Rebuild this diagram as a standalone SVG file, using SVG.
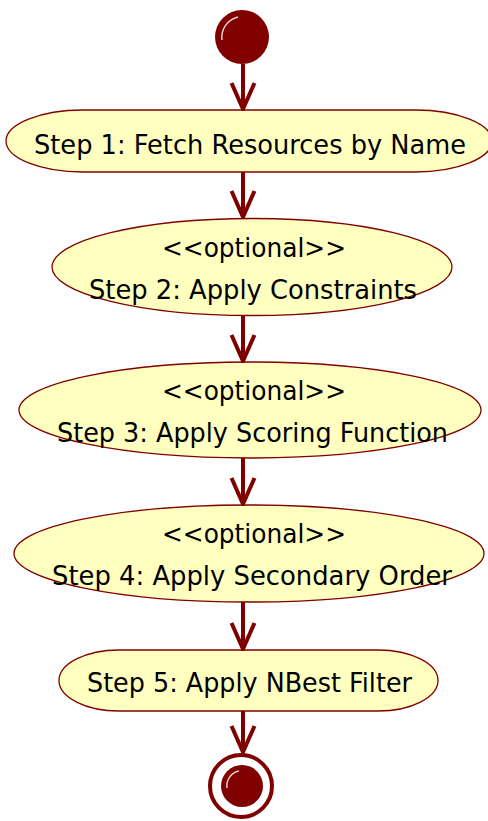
<svg xmlns="http://www.w3.org/2000/svg" width="488" height="821" viewBox="0 0 488 821">
<defs>
<marker id="arr" markerUnits="userSpaceOnUse" markerWidth="30" markerHeight="30" viewBox="-28 -14 30 28" refX="0" refY="0" orient="auto">
<path d="M-26,-11.5 L0,0 L-26,11.5" fill="none" stroke="#800000" stroke-width="4" stroke-linejoin="miter"/>
</marker>
</defs>
<style>
.node{fill:#ffffc0;stroke:#800000;stroke-width:1.3}
.lbl{font-family:"DejaVu Sans","Liberation Sans",sans-serif;font-size:27px;fill:#000;text-anchor:middle}
.edge{stroke:#800000;stroke-width:4;fill:none;marker-end:url(#arr)}
.hl{fill:none;stroke:#fff;stroke-width:1.5;stroke-opacity:0.8}
</style>
<rect width="488" height="821" fill="#fff"/>
<g id="start">
<circle cx="242" cy="37" r="27" fill="#800000"/>
<path class="hl" d="M222,40 A21,21 0 0 1 238,17"/>
</g>
<g id="step1">
<rect class="node" x="6" y="110" width="486" height="62" rx="77" ry="31"/>
<text class="lbl" x="250" y="154" textLength="432" lengthAdjust="spacingAndGlyphs">Step 1: Fetch Resources by Name</text>
</g>
<g id="step2">
<ellipse class="node" cx="252" cy="267" rx="200" ry="48.5"/>
<text class="lbl" x="254" y="257" textLength="184" lengthAdjust="spacingAndGlyphs">&lt;&lt;optional&gt;&gt;</text>
<text class="lbl" x="253" y="299" textLength="328" lengthAdjust="spacingAndGlyphs">Step 2: Apply Constraints</text>
</g>
<g id="step3">
<ellipse class="node" cx="250" cy="410" rx="231" ry="48"/>
<text class="lbl" x="254" y="400" textLength="184" lengthAdjust="spacingAndGlyphs">&lt;&lt;optional&gt;&gt;</text>
<text class="lbl" x="252.5" y="442" textLength="391" lengthAdjust="spacingAndGlyphs">Step 3: Apply Scoring Function</text>
</g>
<g id="step4">
<ellipse class="node" cx="249" cy="553.5" rx="235" ry="48.5"/>
<text class="lbl" x="254" y="543" textLength="184" lengthAdjust="spacingAndGlyphs">&lt;&lt;optional&gt;&gt;</text>
<text class="lbl" x="252" y="585" textLength="400" lengthAdjust="spacingAndGlyphs">Step 4: Apply Secondary Order</text>
</g>
<g id="step5">
<rect class="node" x="59" y="650" width="379" height="61" rx="60" ry="30.5"/>
<text class="lbl" x="249.5" y="692" textLength="325" lengthAdjust="spacingAndGlyphs">Step 5: Apply NBest Filter</text>
</g>
<g id="end">
<circle cx="241" cy="786" r="31" fill="#fff" stroke="#800000" stroke-width="4"/>
<circle cx="242" cy="786" r="21" fill="#800000"/>
<path class="hl" d="M227,788 A15,15 0 0 1 239,771"/>
</g>
<g id="connectors">
<line class="edge" x1="243" y1="64" x2="243" y2="109"/>
<line class="edge" x1="243" y1="172" x2="243" y2="217"/>
<line class="edge" x1="243" y1="316" x2="243" y2="361"/>
<line class="edge" x1="243" y1="458" x2="243" y2="504"/>
<line class="edge" x1="243" y1="602" x2="243" y2="649"/>
<line class="edge" x1="243" y1="711" x2="243" y2="752"/>
</g>
</svg>
